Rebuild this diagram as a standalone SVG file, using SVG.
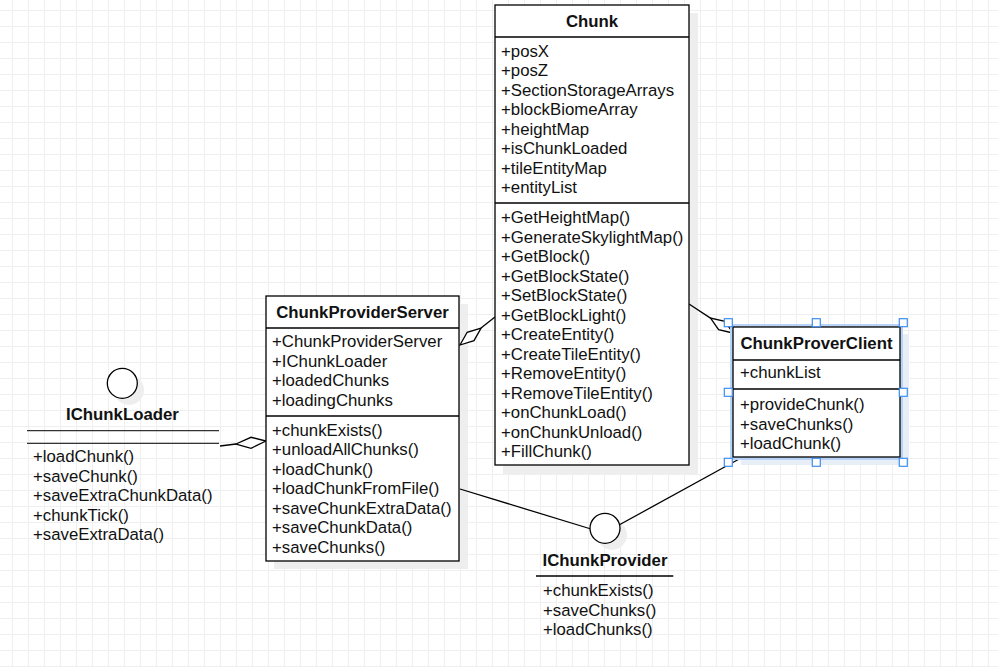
<svg xmlns="http://www.w3.org/2000/svg" width="998" height="667" viewBox="0 0 998 667">
<defs>
<pattern id="grid" x="12" y="10" width="16" height="16" patternUnits="userSpaceOnUse">
<path d="M0.5 0V16M0 0.5H16" stroke="#efefef" stroke-width="1" fill="none"/>
</pattern>
</defs>
<style>
text{font-family:"Liberation Sans",Arial,sans-serif;font-size:16.8px;fill:#111}
.t{font-weight:bold;text-anchor:middle}
.box{fill:#fff;stroke:#000;stroke-width:1.3}
.sh{fill:#eeeeee}
.ln{stroke:#000;stroke-width:1.3;fill:none}
.dm{fill:#fff;stroke:#000;stroke-width:1.3}
.hd{fill:#fff;stroke:#3d8ef0;stroke-width:1.2}
</style>
<rect width="998" height="667" fill="#fff"/>
<rect width="998" height="667" fill="url(#grid)"/>

<g id="shadows">
<rect class="sh" x="503" y="13" width="195" height="461"/>
<rect class="sh" x="274" y="304" width="194" height="265"/>
<rect x="741" y="334" width="168" height="131" fill="#e8eef8"/>
<circle class="sh" cx="129" cy="390" r="15"/>
<circle class="sh" cx="612" cy="535" r="15"/>
</g>

<g id="connectors">
<polyline class="ln" points="220,446 236,444"/>
<polygon class="dm" points="266,441 251,448.3 236,444 251,437.3"/>
<line class="ln" x1="495" y1="317" x2="481" y2="328"/>
<polygon class="dm" points="460,345 467.2,332.3 481.1,328.1 474,340.6"/>
<line class="ln" x1="689" y1="304" x2="710.5" y2="318.1"/>
<polygon class="dm" points="733,333 718.6,329.7 710.5,318.1 724.9,321.4"/>
<line class="ln" x1="460" y1="489" x2="591" y2="529"/>
<line class="ln" x1="619" y1="525" x2="741" y2="458"/>
</g>

<g id="Chunk">
<rect class="box" x="495" y="5" width="194" height="460"/>
<line class="ln" x1="495" y1="37" x2="689" y2="37"/>
<line class="ln" x1="495" y1="203" x2="689" y2="203"/>
<text class="t" x="592" y="27">Chunk</text>
<text x="501" y="56.5">+posX</text>
<text x="501" y="76">+posZ</text>
<text x="501" y="95.5">+SectionStorageArrays</text>
<text x="501" y="115">+blockBiomeArray</text>
<text x="501" y="134.5">+heightMap</text>
<text x="501" y="154">+isChunkLoaded</text>
<text x="501" y="173.5">+tileEntityMap</text>
<text x="501" y="193">+entityList</text>
<text x="501" y="223">+GetHeightMap()</text>
<text x="501" y="242.5">+GenerateSkylightMap()</text>
<text x="501" y="262">+GetBlock()</text>
<text x="501" y="281.5">+GetBlockState()</text>
<text x="501" y="301">+SetBlockState()</text>
<text x="501" y="320.5">+GetBlockLight()</text>
<text x="501" y="340">+CreateEntity()</text>
<text x="501" y="359.5">+CreateTileEntity()</text>
<text x="501" y="379">+RemoveEntity()</text>
<text x="501" y="398.5">+RemoveTileEntity()</text>
<text x="501" y="418">+onChunkLoad()</text>
<text x="501" y="437.5">+onChunkUnload()</text>
<text x="501" y="457">+FillChunk()</text>
</g>

<g id="ChunkProviderServer">
<rect class="box" x="266" y="296" width="193" height="265"/>
<line class="ln" x1="266" y1="328" x2="459" y2="328"/>
<line class="ln" x1="266" y1="416" x2="459" y2="416"/>
<text class="t" x="362.5" y="318">ChunkProviderServer</text>
<text x="272" y="347.3">+ChunkProviderServer</text>
<text x="272" y="366.8">+IChunkLoader</text>
<text x="272" y="386.3">+loadedChunks</text>
<text x="272" y="405.8">+loadingChunks</text>
<text x="272" y="435.7">+chunkExists()</text>
<text x="272" y="455.2">+unloadAllChunks()</text>
<text x="272" y="474.7">+loadChunk()</text>
<text x="272" y="494.2">+loadChunkFromFile()</text>
<text x="272" y="513.7">+saveChunkExtraData()</text>
<text x="272" y="533.2">+saveChunkData()</text>
<text x="272" y="552.7">+saveChunks()</text>
</g>

<g id="ChunkProverClient">
<rect x="733" y="327" width="167" height="130" fill="none" stroke="#b9d3f7" stroke-width="6"/>
<rect class="box" x="733" y="327" width="167" height="130"/>
<line class="ln" x1="733" y1="360" x2="900" y2="360"/>
<line class="ln" x1="733" y1="389" x2="900" y2="389"/>
<text class="t" x="816.5" y="349">ChunkProverClient</text>
<text x="740" y="378.3">+chunkList</text>
<text x="740" y="410">+provideChunk()</text>
<text x="740" y="429.5">+saveChunks()</text>
<text x="740" y="449">+loadChunk()</text>
<rect class="hd" x="724.3" y="318.7" width="8" height="8"/>
<rect class="hd" x="812.3" y="318.7" width="8" height="8"/>
<rect class="hd" x="899.3" y="318.7" width="8" height="8"/>
<rect class="hd" x="724.3" y="388.3" width="8" height="8"/>
<rect class="hd" x="899.3" y="388.3" width="8" height="8"/>
<rect class="hd" x="724.3" y="458.3" width="8" height="8"/>
<rect class="hd" x="812.3" y="458.3" width="8" height="8"/>
<rect class="hd" x="899.3" y="458.3" width="8" height="8"/>
</g>

<g id="IChunkLoader">
<circle cx="122.3" cy="383.3" r="15" fill="#fff" stroke="#000" stroke-width="1.3"/>
<text class="t" x="122.5" y="420">IChunkLoader</text>
<line x1="27" y1="430.7" x2="219" y2="430.7" stroke="#333" stroke-width="1.3"/>
<line x1="27" y1="443.3" x2="219" y2="443.3" stroke="#333" stroke-width="1.3"/>
<text x="33" y="462">+loadChunk()</text>
<text x="33" y="481.5">+saveChunk()</text>
<text x="33" y="501">+saveExtraChunkData()</text>
<text x="33" y="520.5">+chunkTick()</text>
<text x="33" y="540">+saveExtraData()</text>
</g>

<g id="IChunkProvider">
<circle cx="605" cy="528.3" r="15" fill="#fff" stroke="#000" stroke-width="1.3"/>
<text class="t" x="605" y="566">IChunkProvider</text>
<line x1="536" y1="576" x2="673.3" y2="576" stroke="#000" stroke-width="1.3"/>
<text x="543" y="596">+chunkExists()</text>
<text x="543" y="615.5">+saveChunks()</text>
<text x="543" y="635">+loadChunks()</text>
</g>
</svg>
